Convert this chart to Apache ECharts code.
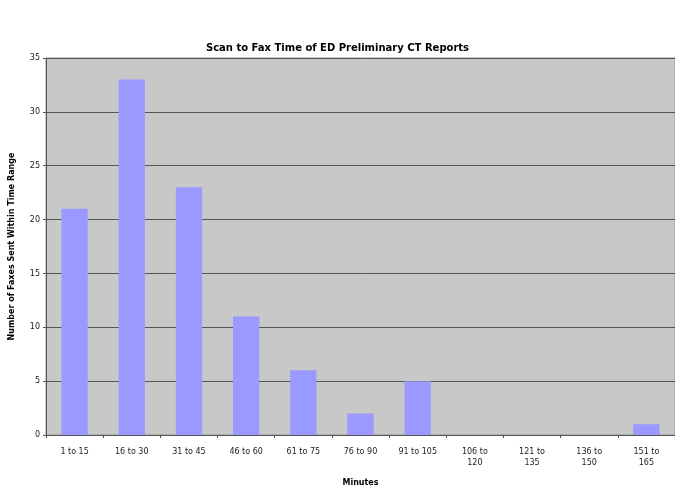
<!DOCTYPE html>
<html>
<head>
<meta charset="utf-8">
<script src="https://cdn.jsdelivr.net/npm/echarts@6/dist/echarts.min.js"></script>
<style>
  html, body { margin: 0; padding: 0; background: #fff; }
  #chart { width: 675px; height: 485px; }
</style>
</head>
<body>
<div id="chart"></div>
<script>
// minute ranges on the x axis
const categories = ['1 to 15', '16 to 30', '31 to 45', '46 to 60', '61 to 75', '76 to 90',
  '91 to 105', '106 to\n120', '121 to\n135', '136 to\n150', '151 to\n165']
// number of faxes per range
const faxCounts = [21, 33, 23, 11, 6, 2, 5, 0, 0, 0, 1]

const chart = echarts.init(document.getElementById('chart'))
const option = {
  animation: false,
  title: {
    text: 'Scan to Fax Time of ED Preliminary CT Reports',
    left: 'center',
    top: 38,
    textStyle: { fontSize: 10, fontWeight: 'bold', color: '#000', fontFamily: 'DejaVu Sans' }
  },
  grid: {
    left: 46,
    right: 0,
    top: 58,
    bottom: 50,
    outerBoundsMode: 'none',
    containLabel: false,
    show: true,
    backgroundColor: '#c8c8c8',
    borderColor: '#999',
    borderWidth: 1
  },
  xAxis: {
    type: 'category',
    data: categories,
    name: 'Minutes',
    nameLocation: 'middle',
    nameGap: 44,
    nameTextStyle: { fontSize: 8, fontWeight: 'bold', color: '#000', fontFamily: 'DejaVu Sans' },
    axisLine: { lineStyle: { color: '#555' } },
    axisTick: { show: true, length: 3, lineStyle: { color: '#555' } },
    axisLabel: { color: '#222', fontSize: 8, interval: 0, lineHeight: 11, margin: 11, fontFamily: 'DejaVu Sans' }
  },
  yAxis: {
    type: 'value',
    min: 0,
    max: 35,
    interval: 5,
    name: 'Number of Faxes Sent Within Time Range',
    nameLocation: 'middle',
    nameGap: 30,
    nameTextStyle: { fontSize: 8, fontWeight: 'bold', color: '#000', fontFamily: 'DejaVu Sans' },
    axisLine: { show: true, lineStyle: { color: '#555' } },
    axisTick: { show: true, length: 3, lineStyle: { color: '#555' } },
    axisLabel: { color: '#222', fontSize: 8, margin: 6, fontFamily: 'DejaVu Sans' },
    splitLine: { lineStyle: { color: '#555', width: 1 } }
  },
  series: [
    {
      type: 'bar',
      data: faxCounts,
      barWidth: '46%',
      itemStyle: { color: '#9999ff' }
    }
  ]
}
chart.setOption(option)
</script>
</body>
</html>
